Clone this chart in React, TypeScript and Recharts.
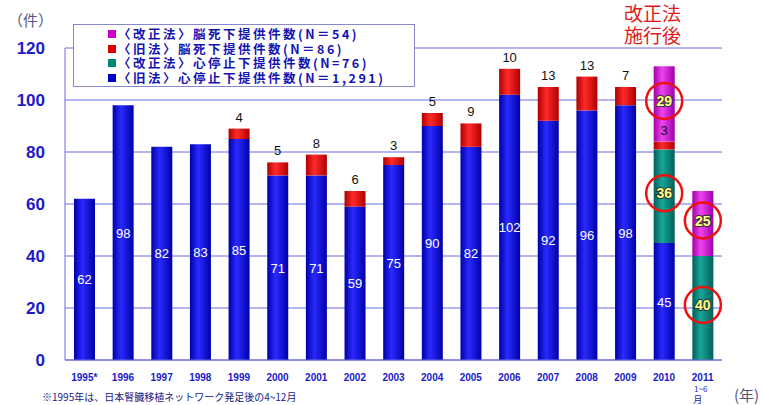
import React from 'react'
import {
  BarChart, Bar, XAxis, YAxis, CartesianGrid, LabelList,
} from 'recharts'

const years = ['1995*', '1996', '1997', '1998', '1999', '2000', '2001', '2002', '2003', '2004', '2005', '2006', '2007', '2008', '2009', '2010', '2011']
const oldHeart = [62, 98, 82, 83, 85, 71, 71, 59, 75, 90, 82, 102, 92, 96, 98, 45, 0]
const newHeart = [0, 0, 0, 0, 0, 0, 0, 0, 0, 0, 0, 0, 0, 0, 0, 36, 40]
const oldBrain = [0, 0, 0, 0, 4, 5, 8, 6, 3, 5, 9, 10, 13, 13, 7, 3, 0]
const newBrain = [0, 0, 0, 0, 0, 0, 0, 0, 0, 0, 0, 0, 0, 0, 0, 29, 25]
const yTicks = [0, 20, 40, 60, 80, 100, 120]

const legendItems = [
  { label: '〈改正法〉脳死下提供件数(N＝54)', color: '#cc00cc' },
  { label: '〈旧法〉脳死下提供件数(N＝86)', color: '#dd0000' },
  { label: '〈改正法〉心停止下提供件数(N=76)', color: '#008877' },
  { label: '〈旧法〉心停止下提供件数(N＝1,291)', color: '#0000cc' },
]

const data = years.map((y, i) => ({
  year: y, oldHeart: oldHeart[i], newHeart: newHeart[i], oldBrain: oldBrain[i], newBrain: newBrain[i],
}))

const AXIS = '#6a6ae0'
const TXT = '#1a1acc'
const CJK = '"Noto Sans CJK JP", "Noto Sans", sans-serif'

function grad(id: string, edge: string, mid: string) {
  return (
    <linearGradient id={id} x1="0" y1="0" x2="1" y2="0">
      <stop offset="0%" stopColor={edge} />
      <stop offset="40%" stopColor={mid} />
      <stop offset="100%" stopColor={edge} />
    </linearGradient>
  )
}

const XTick = (props: any) => {
  const { x, y, payload } = props
  return (
    <g>
      <text x={x} y={y + 13} textAnchor="middle" fontSize={10} fontWeight="bold" fill={TXT} fontFamily="Arial, sans-serif">
        {payload.value}
      </text>
      {payload.value === '2011' && (
        <>
          <text x={x - 2} y={y + 24} textAnchor="middle" fontSize={8} fill={TXT} fontFamily={CJK}>1~6</text>
          <text x={x - 5} y={y + 35} textAnchor="middle" fontSize={9} fill={TXT} fontFamily={CJK}>月</text>
        </>
      )}
    </g>
  )
}

const whiteLabel = (props: any) => {
  const { x, y, width, height, value } = props
  if (!value) return null
  return (
    <text x={x + width / 2} y={y + height / 2 + 5} textAnchor="middle" fontSize={13} fill="#fff" fontFamily="Arial, sans-serif">
      {value}
    </text>
  )
}

const redLabel = (props: any) => {
  const { x, y, width, height, value, index } = props
  if (!value) return null
  if (index === 15) {
    return (
      <text x={x + width / 2} y={y + height / 2 + 5} textAnchor="middle" fontSize={13} fill="#fff"
        stroke="#333" strokeWidth={1.5} paintOrder="stroke" fontFamily="Arial, sans-serif">
        {value}
      </text>
    )
  }
  return (
    <text x={x + width / 2} y={y - 7} textAnchor="middle" fontSize={13} fill="#111" fontFamily="Arial, sans-serif">
      {value}
    </text>
  )
}

const circleLabel = (props: any) => {
  const { x, y, width, height, value } = props
  if (!value) return null
  const cx = x + width / 2
  const cy = y + height / 2 - 3
  return (
    <g>
      <circle cx={cx} cy={cy} r={18} fill="none" stroke="#ee1111" strokeWidth={2.5} />
      <text x={cx} y={cy + 5} textAnchor="middle" fontSize={14} fontWeight="bold" fill="#ffff88"
        stroke="#333" strokeWidth={2} paintOrder="stroke" fontFamily="Arial, sans-serif">
        {value}
      </text>
    </g>
  )
}

export default function App() {
  return (
    <div style={{ position: 'relative', width: 763, height: 405, background: '#fff', fontFamily: CJK, overflow: 'hidden' }}>
      <style>{'body{margin:0}'}</style>
      <BarChart width={763} height={405} data={data} margin={{ top: 48, right: 41, left: 0, bottom: 15 }} barSize={21}>
        <defs>
          {grad('gBlue', '#0000a8', '#2a2aff')}
          {grad('gTeal', '#005f5a', '#18a598')}
          {grad('gRed', '#b00000', '#ff2a2a')}
          {grad('gMag', '#a000a8', '#ee44ee')}
        </defs>
        <CartesianGrid vertical={false} stroke={AXIS} strokeWidth={1} />
        <XAxis dataKey="year" height={30} tick={<XTick />} interval={0} axisLine={{ stroke: AXIS }} tickLine={false} />
        <YAxis domain={[0, 120]} ticks={yTicks} width={65} tickLine={false} axisLine={{ stroke: AXIS }} tickMargin={14}
          tick={{ fontSize: 17, fontWeight: 'bold', fill: TXT, fontFamily: 'Arial, sans-serif' }} />
        <YAxis yAxisId="r" orientation="right" domain={[0, 120]} width={0} tick={false} tickLine={false} axisLine={{ stroke: AXIS }} />
        <Bar dataKey="oldHeart" stackId="a" fill="url(#gBlue)" isAnimationActive={false}>
          <LabelList dataKey="oldHeart" content={whiteLabel} />
        </Bar>
        <Bar dataKey="newHeart" stackId="a" fill="url(#gTeal)" isAnimationActive={false}>
          <LabelList dataKey="newHeart" content={circleLabel} />
        </Bar>
        <Bar dataKey="oldBrain" stackId="a" fill="url(#gRed)" isAnimationActive={false}>
          <LabelList dataKey="oldBrain" content={redLabel} />
        </Bar>
        <Bar dataKey="newBrain" stackId="a" fill="url(#gMag)" isAnimationActive={false}>
          <LabelList dataKey="newBrain" content={circleLabel} />
        </Bar>
      </BarChart>

      <div style={{
        position: 'absolute', left: 73, top: 24, width: 342, height: 63, border: '1px solid #8888cc',
        background: '#fff', boxSizing: 'border-box', padding: '2px 0 0 34px',
      }}>
        {legendItems.map(it => (
          <div key={it.label} style={{ display: 'flex', alignItems: 'center', height: 14.5, lineHeight: '14.5px', color: '#1414b4', fontWeight: 'bold', fontSize: 12.5, letterSpacing: 2.5, whiteSpace: 'nowrap' }}>
            <span style={{ display: 'inline-block', width: 8, height: 8, background: it.color, marginRight: 2 }} />
            {it.label}
          </div>
        ))}
      </div>

      <div style={{ position: 'absolute', left: 8, top: 11, fontSize: 15, lineHeight: '18px', color: '#555577' }}>（件）</div>
      <div style={{ position: 'absolute', left: 624, top: 2, fontSize: 19, color: '#e21a1a', lineHeight: '22px', textAlign: 'center' }}>
        改正法<br />施行後
      </div>
      <div style={{ position: 'absolute', left: 734, top: 386, fontSize: 15, lineHeight: '18px', color: '#555577' }}>(年)</div>
      <div style={{ position: 'absolute', left: 42, top: 391, fontSize: 10, lineHeight: '12px', color: '#1a1a88' }}>
        ※1995年は、日本腎臓移植ネットワーク発足後の4~12月
      </div>
    </div>
  )
}
